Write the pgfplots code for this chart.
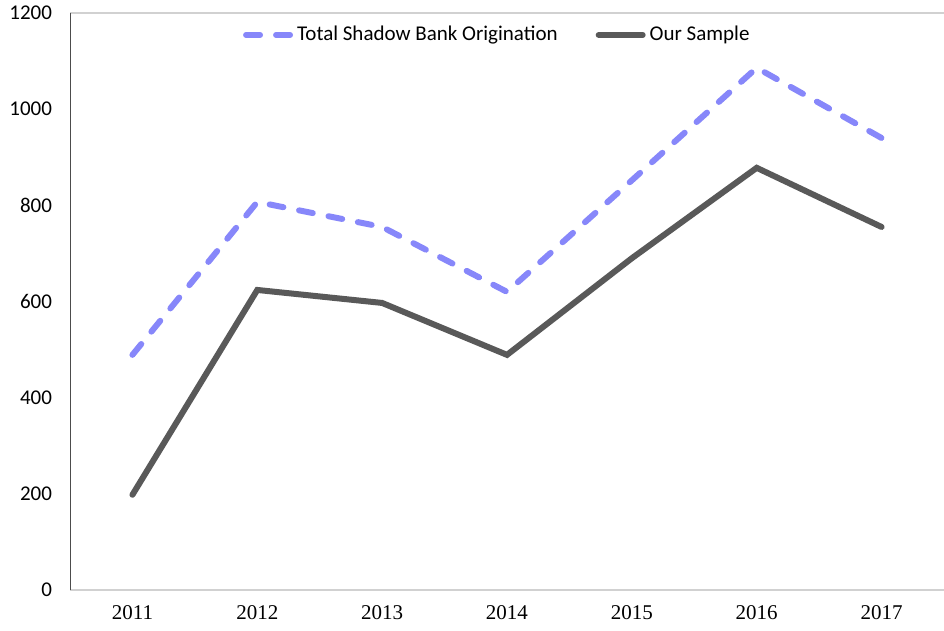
\documentclass[border=0pt]{standalone}
\usepackage{fontspec}
\setmainfont{Carlito}
\newfontfamily\timesf{Liberation Serif}
\usepackage{pgfplots}
\pgfplotsset{compat=1.18}
\definecolor{lavblue}{RGB}{135,135,250}
\definecolor{dgray}{RGB}{89,89,89}
\begin{document}
\begin{tikzpicture}
\begin{axis}[
  scale only axis,
  width=437pt, height=288.5pt,
  xmin=2010.5, xmax=2017.5,
  ymin=0, ymax=1200,
  ytick={0,200,...,1200},
  xtick={2011,...,2017},
  xticklabels={2011,2012,2013,2014,2015,2016,2017},
  major tick length=0pt,
  separate axis lines,
  x axis line style={draw=black!18, line width=0.8pt},
  y axis line style={draw=none},
  /pgf/number format/assume math mode=true,
  /pgf/number format/1000 sep={},
  yticklabel style={font=\fontsize{10.5}{12}\selectfont, xshift=-5.5pt},
  xticklabel style={font=\fontsize{10.5}{12}\selectfont\timesf, yshift=-4pt},
  legend style={draw=none, fill=none, at={(0.49,0.962)}, anchor=center,
    font=\fontsize{10.5}{12}\selectfont, legend columns=2,
    /tikz/every even column/.append style={column sep=17pt},
    inner sep=0pt},
  legend cell align=left,
  legend image code/.code={\draw[#1] (0pt,0pt) -- (22pt,0pt);},
]
\draw[black!70, line width=0.8pt] (rel axis cs:0,0) -- (rel axis cs:0,1);
\addplot[lavblue, line width=3pt, line cap=round, dash pattern=on 7pt off 8pt] coordinates {
  (2011,489) (2012,807) (2013,755) (2014,620) (2015,852) (2016,1086) (2017,940)
};
\addlegendentry{Total Shadow Bank Origination}
\addplot[dgray, line width=3pt, line cap=round, line join=miter] coordinates {
  (2011,198) (2012,624) (2013,597) (2014,489) (2015,690) (2016,878) (2017,755)
};
\addlegendentry{Our Sample}
\end{axis}
\pgfresetboundingbox
\useasboundingbox ([xshift=-35pt,yshift=-20pt]current axis.south west) rectangle ([yshift=6.5pt]current axis.north east);
\end{tikzpicture}
\end{document}
